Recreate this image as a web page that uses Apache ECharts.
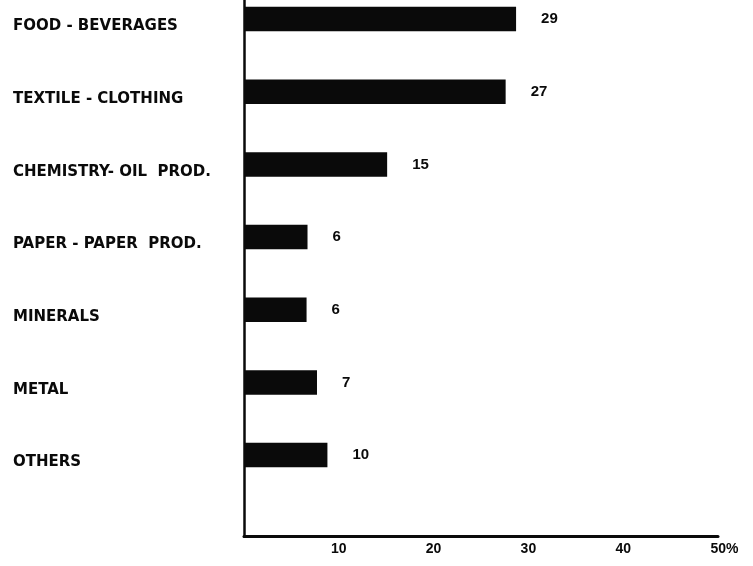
<!DOCTYPE html>
<html>
<head>
<meta charset="utf-8">
<script src="https://cdn.jsdelivr.net/npm/echarts@6/dist/echarts.min.js"></script>
<style>html,body{margin:0;padding:0;background:#fff}#c{width:753px;height:566px}</style>
</head>
<body>
<div id="c"></div>
<script>
const categories = ['FOOD - BEVERAGES', 'TEXTILE - CLOTHING', 'CHEMISTRY- OIL  PROD.', 'PAPER - PAPER  PROD.', 'MINERALS', 'METAL', 'OTHERS'];
const barValues = [28.7, 27.6, 15.1, 6.7, 6.6, 7.7, 8.8];
const printedValues = ['29', '27', '15', '6', '6', '7', '10'];
const xMin = 0, xMax = 50, xStep = 10;
const xTickLabels = { 0: '', 10: '10', 20: '20', 30: '30', 40: '40', 50: '{s|}50%' };

const chart = echarts.init(document.getElementById('c'), null, { renderer: 'canvas' });
const ink = '#0a0a0a';
chart.setOption({
  backgroundColor: '#ffffff',
  animation: false,
  grid: [
    { left: 244, right: 35, top: -17.3, height: 508.7, containLabel: false, outerBoundsMode: 'none' },
    { left: 244, right: 35, top: 0, bottom: 29.3, containLabel: false, outerBoundsMode: 'none' }
  ],
  xAxis: [
    { gridIndex: 0, type: 'value', min: xMin, max: xMax, interval: xStep, show: false },
    {
      gridIndex: 1, type: 'value', min: xMin, max: xMax, interval: xStep,
      axisLine: { show: true, onZero: false, lineStyle: { color: ink, width: 3 } },
      axisTick: { show: false },
      splitLine: { show: false },
      axisLabel: {
        margin: 5, color: ink, fontFamily: 'Liberation Sans', fontWeight: 'bold', fontSize: 14,
        formatter: v => xTickLabels[v] !== undefined ? xTickLabels[v] : '',
        rich: { s: { width: 13 } }
      }
    }
  ],
  yAxis: [
    {
      gridIndex: 0, type: 'category', data: categories, inverse: true,
      axisLine: { show: false }, axisTick: { show: false }, splitLine: { show: false },
      axisLabel: {
        align: 'left', verticalAlign: 'top', margin: 231, color: ink,
        fontFamily: 'DejaVu Sans', fontWeight: 'bold', fontSize: 15, lineHeight: 15
      }
    },
    {
      gridIndex: 1, type: 'value', min: 0, max: 1,
      axisLine: { show: true, onZero: false, lineStyle: { color: ink, width: 2.5 } },
      axisTick: { show: false }, splitLine: { show: false }, axisLabel: { show: false }
    }
  ],
  series: [{
    type: 'bar', xAxisIndex: 0, yAxisIndex: 0,
    data: barValues,
    barWidth: 24.5,
    itemStyle: { color: ink },
    label: {
      show: true, position: 'right', distance: 25, color: ink,
      fontFamily: 'Liberation Sans', fontWeight: 'bold', fontSize: 15,
      formatter: p => printedValues[p.dataIndex]
    }
  }]
});
</script>
</body>
</html>
